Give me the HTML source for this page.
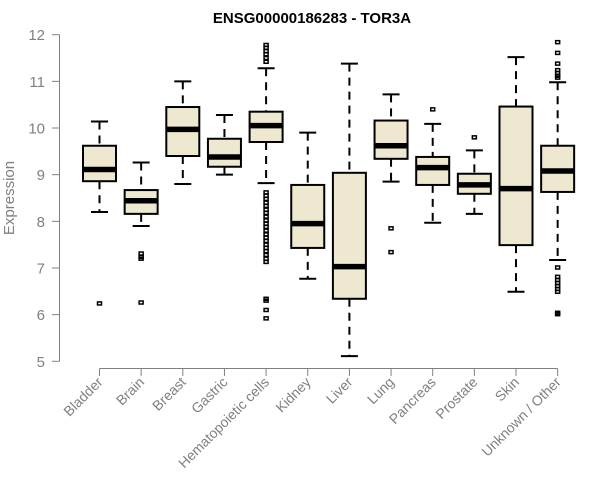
<!DOCTYPE html>
<html><head><meta charset="utf-8"><style>
body{margin:0;background:#fff}
svg{display:block;font-family:"Liberation Sans",sans-serif}
</style></head><body>
<svg id="chart" width="600" height="500" xmlns="http://www.w3.org/2000/svg">
<text x="312" y="23" text-anchor="middle" font-weight="bold" font-size="15">ENSG00000186283 - TOR3A</text>
<text transform="translate(14,198) rotate(-90)" text-anchor="middle" font-size="15" fill="#808080">Expression</text>
<g id="axes"></g><g id="boxes"></g>
</svg>
<script>
const categories=["Bladder","Brain","Breast","Gastric","Hematopoietic cells","Kidney","Liver","Lung","Pancreas","Prostate","Skin","Unknown / Other"];
const whiskerLow=[8.20,7.90,8.80,9.00,8.82,6.77,5.11,8.85,7.97,8.16,6.49,7.17];
const q1=[8.86,8.16,9.40,9.17,9.70,7.43,6.34,9.34,8.78,8.59,7.49,8.63];
const medians=[9.11,8.44,9.97,9.38,10.05,7.95,7.03,9.62,9.15,8.78,8.70,9.08];
const q3=[9.62,8.67,10.45,9.77,10.35,8.78,9.04,10.16,9.38,9.02,10.46,9.62];
const whiskerHigh=[10.14,9.26,11.00,10.28,11.28,9.90,11.38,10.72,10.09,9.52,11.52,10.98];
const outliers=[[6.24],[7.31,7.24,7.20,6.26],[],[],
[11.78,11.72,11.65,11.58,11.50,11.42,8.62,8.55,8.48,8.40,8.33,8.25,8.18,8.10,8.02,7.95,7.88,7.80,7.72,7.65,7.58,7.50,7.43,7.36,7.28,7.20,7.13,6.34,6.30,6.10,5.92],
[],[],[7.85,7.34],[10.40],[9.80],[],
[11.84,11.61,11.38,11.24,11.18,11.12,11.08,7.01,6.81,6.74,6.68,6.61,6.55,6.49,6.04,6.01]];
const yTicks=[5,6,7,8,9,10,11,12];
const NS="http://www.w3.org/2000/svg";
const yS=v=>361.3-(v-5)*(361.3-34.7)/7;
const xS=i=>99.5+i*41.65;
function mk(p,t,a){const e=document.createElementNS(NS,t);for(const k in a)e.setAttribute(k,a[k]);p.appendChild(e);return e;}
const ax=document.getElementById('axes'),bx=document.getElementById('boxes');
const ya=mk(ax,'line',{x1:59.5,x2:59.5,y1:yS(5),y2:yS(12),stroke:'#808080'});


yTicks.forEach(v=>{
 const t=mk(ax,'line',{x1:52,x2:59.5,y1:yS(v),y2:yS(v),stroke:'#808080'});
 
 
 const l=mk(ax,'text',{x:45,y:yS(v)+5.5,'text-anchor':'end','font-size':15,fill:'#808080'});
 l.textContent=v;
 
 
});
const xa=mk(ax,'line',{x1:xS(0),x2:xS(categories.length-1),y1:368.5,y2:368.5,stroke:'#808080'});


categories.forEach((c,i)=>{
 const x=xS(i);
 const t=mk(ax,'line',{x1:x,x2:x,y1:368.5,y2:376,stroke:'#808080'});
 
 
 const l=mk(ax,'text',{transform:`translate(${x+4},${383}) rotate(-45)`,'text-anchor':'end','font-size':14,fill:'#808080'});
 l.textContent=c;
 
 
 const g=mk(bx,'g',{});
 
 
 mk(g,'line',{x1:x,x2:x,y1:yS(whiskerHigh[i]),y2:yS(q3[i]),stroke:'#000','stroke-width':2,'stroke-dasharray':'8,6'});
 mk(g,'line',{x1:x,x2:x,y1:yS(q1[i]),y2:yS(whiskerLow[i]),stroke:'#000','stroke-width':2,'stroke-dasharray':'8,6'});
 mk(g,'line',{x1:x-8.5,x2:x+8.5,y1:yS(whiskerHigh[i]),y2:yS(whiskerHigh[i]),stroke:'#000','stroke-width':2});
 mk(g,'line',{x1:x-8.5,x2:x+8.5,y1:yS(whiskerLow[i]),y2:yS(whiskerLow[i]),stroke:'#000','stroke-width':2});
 mk(g,'rect',{x:x-16.5,y:yS(q3[i]),width:33,height:yS(q1[i])-yS(q3[i]),fill:'#ede8cf',stroke:'#000','stroke-width':2});
 mk(g,'line',{x1:x-16.5,x2:x+16.5,y1:yS(medians[i]),y2:yS(medians[i]),stroke:'#000','stroke-width':5.5});
 outliers[i].forEach(v=>{
  mk(g,'rect',{x:x-2,y:yS(v)-1.5,width:4,height:3,fill:'none',stroke:'#000','stroke-width':1.5});
 });
});
</script>
</body></html>
